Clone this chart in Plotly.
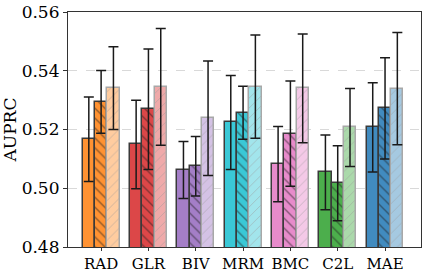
import plotly.graph_objects as go

categories = ["RAD", "GLR", "BIV", "MRM", "BMC", "C2L", "MAE"]
solid_vals = [0.5167, 0.5149, 0.5062, 0.5224, 0.5082, 0.5054, 0.5207]
solid_err = [0.0144, 0.0151, 0.0097, 0.0160, 0.0128, 0.0127, 0.0152]
hatch_vals = [0.5294, 0.5269, 0.5075, 0.5257, 0.5186, 0.5017, 0.5272]
hatch_err = [0.0107, 0.0205, 0.0101, 0.0090, 0.0179, 0.0128, 0.0172]
light_vals = [0.5341, 0.5345, 0.5238, 0.5346, 0.5340, 0.5207, 0.5339]
light_err = [0.0141, 0.0199, 0.0195, 0.0176, 0.0185, 0.0133, 0.0191]
base_colors = ["#ff7f0e", "#d62728", "#9467bd", "#17becf", "#e377c2", "#2ca02c", "#1f77b4"]

def blend(hexc, a):
    h = hexc.lstrip("#")
    rgb = [int(h[k:k + 2], 16) for k in (0, 2, 4)]
    r, g, b = [round(a * v + (1 - a) * 255) for v in rgb]
    return f"rgb({r},{g},{b})"

W = 0.26
idx = list(range(len(categories)))
fig = go.Figure()

specs = [
    (solid_vals, solid_err, -W, 0.85, "", "#333333", "#3a3a3a", 0.15),
    (hatch_vals, hatch_err, 0.0, 0.85, "\\", "#222222", "#3a3a3a", 0.2),
    (light_vals, light_err, W, 0.4, "/", "#9a9a9a", "#a8a8a8", 0.13),
]
for vals, errs, off, alpha, shape, fg, edge, sol in specs:
    for i in idx:
        col = blend(base_colors[i], alpha)
        fig.add_trace(go.Bar(
            x=[i + off], y=[vals[i]], width=W,
            marker=dict(color=col, line=dict(color=edge, width=1.5),
                        pattern=dict(shape=shape, fgcolor=fg, bgcolor=col, size=7,
                                     solidity=sol, fillmode="overlay")),
            error_y=dict(type="data", array=[errs[i]], color="#1a1a1a", thickness=1.5, width=5),
            showlegend=False, hoverinfo="skip",
        ))

fig.update_layout(
    width=428, height=273,
    margin=dict(l=68, r=7, t=12, b=26, autoexpand=False),
    plot_bgcolor="white", paper_bgcolor="white",
    barmode="overlay", bargap=0,
    font=dict(family="DejaVu Serif", size=15, color="black"),
)
fig.update_xaxes(
    range=[-0.70, 6.76], tickvals=idx, ticktext=categories,
    showline=True, linecolor="#333333", linewidth=1.2, mirror=True,
    ticks="outside", ticklen=3, tickcolor="#333333", showgrid=False, zeroline=False,
    tickfont=dict(size=15), automargin=False,
)
fig.update_yaxes(
    range=[0.48, 0.56], tickvals=[0.48, 0.50, 0.52, 0.54, 0.56],
    ticktext=["0.48", "0.50", "0.52", "0.54", "0.56"],
    showline=True, linecolor="#333333", linewidth=1.2, mirror=True,
    ticks="outside", ticklen=4, tickcolor="#333333",
    showgrid=True, gridcolor="#d9d9d9", griddash="dash", gridwidth=0.8, zeroline=False,
    title=dict(text="AUPRC", font=dict(size=17), standoff=6),
    tickfont=dict(size=17), automargin=False,
)
fig.write_html("out.html", config={"displayModeBar": False},
               post_script="document.body.style.margin='0px';")
